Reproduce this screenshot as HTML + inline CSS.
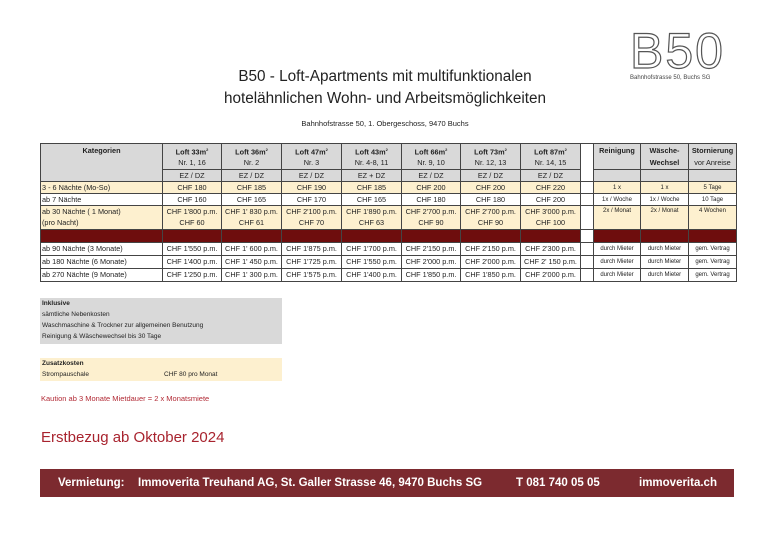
<!DOCTYPE html>
<html><head><meta charset="utf-8"><style>
body{margin:0;width:778px;height:550px;background:#fff;position:relative;font-family:"Liberation Sans",sans-serif;overflow:hidden}
.a{position:absolute}
table{position:absolute;left:40px;top:143px;border-collapse:collapse;table-layout:fixed;font-size:7.3px;color:#222}
td{border:1px solid #444;padding:0 1px;text-align:center;white-space:nowrap;overflow:hidden;line-height:10px}
.g{background:#d9d9d9}.y{background:#fdf0cf}.d{background:#6e0d0d}.w{background:#fff}
.l{text-align:left}
.b{font-weight:bold}
.nb{border-bottom:none}.nt{border-top:none}
.s{font-size:6px}
</style></head><body>
<div class="a" style="left:630px;top:26px;font-size:50px;letter-spacing:2px;color:#fff;-webkit-text-stroke:1.2px #555;font-family:'Liberation Sans';line-height:50px">B50</div>
<div class="a" style="left:630px;top:75px;font-size:6px;color:#444">Bahnhofstrasse 50, Buchs SG</div>
<div class="a" style="left:185px;width:400px;top:66px;text-align:center;font-size:15.3px;line-height:22px;color:#222">B50 - Loft-Apartments mit multifunktionalen<br>hotelähnlichen Wohn- und Arbeitsmöglichkeiten</div>
<div class="a" style="left:200px;width:370px;top:119px;text-align:center;font-size:7.5px;color:#222">Bahnhofstrasse 50, 1. Obergeschoss, 9470 Buchs</div>
<table>
<colgroup><col style="width:122px"><col style="width:59px"><col style="width:60px"><col style="width:60px"><col style="width:60px"><col style="width:59px"><col style="width:60px"><col style="width:60px"><col style="width:13px"><col style="width:47px"><col style="width:48px"><col style="width:48px"></colgroup>
<tr style="height:14px"><td class="g b" rowspan="3" style="vertical-align:top;padding-top:2px">Kategorien</td>
<td class="g b nb">Loft 33m<sup style="font-size:4px">2</sup></td><td class="g b nb">Loft 36m<sup style="font-size:4px">2</sup></td><td class="g b nb">Loft 47m<sup style="font-size:4px">2</sup></td><td class="g b nb">Loft 43m<sup style="font-size:4px">2</sup></td><td class="g b nb">Loft 66m<sup style="font-size:4px">2</sup></td><td class="g b nb">Loft 73m<sup style="font-size:4px">2</sup></td><td class="g b nb">Loft 87m<sup style="font-size:4px">2</sup></td><td class="w" rowspan="3"></td>
<td class="g b nb">Reinigung</td><td class="g b nb">Wäsche-</td><td class="g b nb">Stornierung</td></tr>
<tr style="height:12px"><td class="g nt">Nr. 1, 16</td><td class="g nt">Nr. 2</td><td class="g nt">Nr. 3</td><td class="g nt">Nr. 4-8, 11</td><td class="g nt">Nr. 9, 10</td><td class="g nt">Nr. 12, 13</td><td class="g nt">Nr. 14, 15</td><td class="g nt"></td><td class="g nt b">Wechsel</td><td class="g nt">vor Anreise</td></tr>
<tr style="height:12px"><td class="g">EZ / DZ</td><td class="g">EZ / DZ</td><td class="g">EZ / DZ</td><td class="g">EZ + DZ</td><td class="g">EZ / DZ</td><td class="g">EZ / DZ</td><td class="g">EZ / DZ</td><td class="g"></td><td class="g"></td><td class="g"></td></tr>
<tr style="height:12px" class="y"><td class="l">3 - 6 Nächte (Mo-So)</td><td>CHF 180</td><td>CHF 185</td><td>CHF 190</td><td>CHF 185</td><td>CHF 200</td><td>CHF 200</td><td>CHF 220</td><td class="w"></td><td class="s">1 x</td><td class="s">1 x</td><td class="s">5 Tage</td></tr>
<tr style="height:12px"><td class="l">ab 7 Nächte</td><td>CHF 160</td><td>CHF 165</td><td>CHF 170</td><td>CHF 165</td><td>CHF 180</td><td>CHF 180</td><td>CHF 200</td><td></td><td class="s">1x / Woche</td><td class="s">1x / Woche</td><td class="s">10 Tage</td></tr>
<tr style="height:12px" class="y"><td class="l nb">ab 30 Nächte ( 1 Monat)</td><td class="nb">CHF 1'800 p.m.</td><td class="nb">CHF 1' 830 p.m.</td><td class="nb">CHF 2'100 p.m.</td><td class="nb">CHF 1'890 p.m.</td><td class="nb">CHF 2'700 p.m.</td><td class="nb">CHF 2'700 p.m.</td><td class="nb">CHF 3'000 p.m.</td><td class="w" rowspan="2"></td><td class="s" rowspan="2" style="vertical-align:top">2x / Monat</td><td class="s" rowspan="2" style="vertical-align:top">2x / Monat</td><td class="s" rowspan="2" style="vertical-align:top">4 Wochen</td></tr>
<tr style="height:12px" class="y"><td class="l nt">(pro Nacht)</td><td class="nt">CHF 60</td><td class="nt">CHF 61</td><td class="nt">CHF 70</td><td class="nt">CHF 63</td><td class="nt">CHF 90</td><td class="nt">CHF 90</td><td class="nt">CHF 100</td></tr>
<tr style="height:13px" class="d"><td></td><td></td><td></td><td></td><td></td><td></td><td></td><td></td><td class="w"></td><td></td><td></td><td></td></tr>
<tr style="height:13px"><td class="l">ab 90 Nächte (3 Monate)</td><td>CHF 1'550 p.m.</td><td>CHF 1' 600 p.m.</td><td>CHF 1'875 p.m.</td><td>CHF 1'700 p.m.</td><td>CHF 2'150 p.m.</td><td>CHF 2'150 p.m.</td><td>CHF 2'300 p.m.</td><td></td><td class="s">durch Mieter</td><td class="s">durch Mieter</td><td class="s">gem. Vertrag</td></tr>
<tr style="height:13px"><td class="l">ab 180 Nächte (6 Monate)</td><td>CHF 1'400 p.m.</td><td>CHF 1' 450 p.m.</td><td>CHF 1'725 p.m.</td><td>CHF 1'550 p.m.</td><td>CHF 2'000 p.m.</td><td>CHF 2'000 p.m.</td><td>CHF 2' 150 p.m.</td><td></td><td class="s">durch Mieter</td><td class="s">durch Mieter</td><td class="s">gem. Vertrag</td></tr>
<tr style="height:13px"><td class="l">ab 270 Nächte (9 Monate)</td><td>CHF 1'250 p.m.</td><td>CHF 1' 300 p.m.</td><td>CHF 1'575 p.m.</td><td>CHF 1'400 p.m.</td><td>CHF 1'850 p.m.</td><td>CHF 1'850 p.m.</td><td>CHF 2'000 p.m.</td><td></td><td class="s">durch Mieter</td><td class="s">durch Mieter</td><td class="s">gem. Vertrag</td></tr>
</table>
<div class="a" style="left:40px;top:298px;width:240px;height:46px;background:#d9d9d9;padding-left:2px;font-size:6.5px;line-height:11px;color:#222"><b>Inklusive</b><br>sämtliche Nebenkosten<br>Waschmaschine &amp; Trockner zur allgemeinen Benutzung<br>Reinigung &amp; Wäschewechsel bis 30 Tage</div>
<div class="a" style="left:40px;top:358px;width:240px;height:23px;background:#fdf0cf;padding-left:2px;font-size:6.5px;line-height:11px;color:#222"><b>Zusatzkosten</b><br>Strompauschale<span style="position:absolute;left:124px">CHF 80 pro Monat</span></div>
<div class="a" style="left:41px;top:394px;font-size:7.5px;color:#b22a35">Kaution ab 3 Monate Mietdauer = 2 x Monatsmiete</div>
<div class="a" style="left:41px;top:429px;font-size:15px;color:#a8232e">Erstbezug ab Oktober 2024</div>
<div class="a" style="left:40px;top:469px;width:694px;height:28px;background:#7c2a2f;color:#fff;font-size:11.5px;font-weight:bold;line-height:28px">
<span class="a" style="left:18px">Vermietung:</span><span class="a" style="left:98px">Immoverita Treuhand AG, St. Galler Strasse 46, 9470 Buchs SG</span><span class="a" style="left:476px">T 081 740 05 05</span><span class="a" style="left:599px">immoverita.ch</span></div>
</body></html>
